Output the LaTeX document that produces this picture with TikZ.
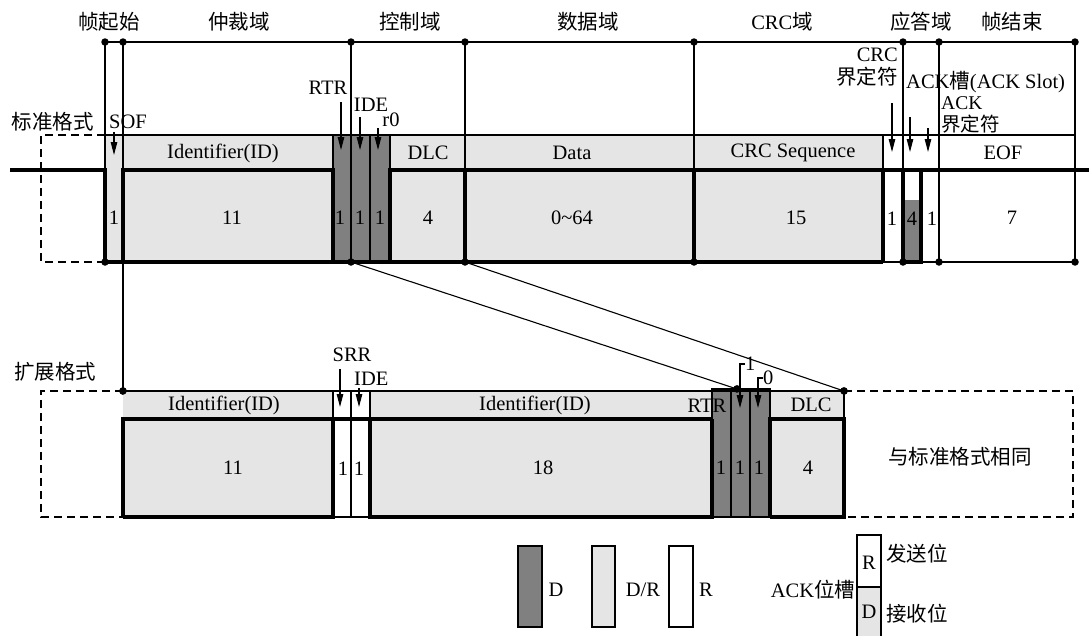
\documentclass[tikz,border=0pt]{standalone}
\usepackage{fontspec}
\setmainfont{Liberation Serif}
\newfontfamily\cjk{Noto Sans CJK SC}
\usetikzlibrary{arrows.meta}
\definecolor{lg}{gray}{0.9}
\definecolor{dg}{gray}{0.5}
\begin{document}
\begin{tikzpicture}[x=1pt,y=-1pt,
  font=\fontsize{20.5}{24}\selectfont,
  every node/.style={inner sep=0pt},
  small/.style={font=\fontsize{19.5}{22}\selectfont},
  ln/.style={line width=1.1pt},
  bus/.style={line width=3.2pt},
  dsh/.style={line width=1.3pt, dash pattern=on 8pt off 5pt},
  arr/.style={line width=1.1pt, -{Triangle[length=13pt,width=6.5pt]}},
  dot/.style={circle, fill=black, minimum size=7.5pt, inner sep=0pt}]
\useasboundingbox (0,0) rectangle (1089,635);

% ---------------- standard frame fills
\fill[lg] (105,135) rectangle (333,262);
\fill[dg] (333,135) rectangle (390,262);
\fill[lg] (390,135) rectangle (883,262);
\fill[dg] (903,200) rectangle (921,262);

% thin lines
\draw[dsh] (105,135) -- (41,135) -- (41,262) -- (105,262);
\draw[ln] (105,135) -- (1075,135);
\draw[ln] (105,42) -- (1075,42);
\foreach \x in {333,390,883} \draw[ln] (\x,135) -- (\x,170);
\draw[ln] (370,135) -- (370,262);
\draw[ln] (883,262) -- (1075,262);

% connector coordinates
\coordinate (t105) at (105,42);  \coordinate (m105) at (105,170);
\coordinate (t123) at (123,42);
\coordinate (t351) at (351,42);  \coordinate (b351) at (351,262);
\coordinate (t465) at (465,42);  \coordinate (b465) at (465,262);
\coordinate (t694) at (694,42);  \coordinate (b694) at (694,262);
\coordinate (t903) at (903,42);  \coordinate (b903) at (903,262);
\coordinate (t939) at (939,42);  \coordinate (b939) at (939,262);
\coordinate (t1075) at (1075,42); \coordinate (b1075) at (1075,262);
\coordinate (b105) at (105,262);
\coordinate (e123) at (123,391);
\coordinate (e737) at (737,389);
\coordinate (e844) at (844,391);

\draw[ln] (t105) -- (m105);
\draw[ln] (t123) -- (e123);
\draw[ln] (t351) -- (b351);
\draw[ln] (t465) -- (465,170);
\draw[ln] (t694) -- (694,170);
\draw[ln] (t903) -- (903,170);
\draw[ln] (t939) -- (b939);
\draw[ln] (t1075) -- (b1075);
\draw[ln] (b351) -- (e737);
\draw[ln] (b465) -- (e844);

% thick bus lines
\draw[bus] (10,170) -- (105,170) -- (105,262) -- (883,262);
\draw[bus] (123,262) -- (123,170) -- (333,170) -- (333,262);
\draw[bus] (390,262) -- (390,170) -- (1089,170);
\foreach \x in {465,694,883} \draw[bus] (\x,170) -- (\x,262);
\draw[bus] (903,170) -- (903,262) -- (921,262) -- (921,170);

% dots
\foreach \p in {t105,t123,t351,t465,t694,t903,t939,t1075,b105,b351,b465,b694,b903,b939,b1075,e123,e737,e844}
  \node[dot] at (\p) {};

% header labels
\node (h1) at (109,22) {\cjk 帧起始};
\node (h2) at (239,22) {\cjk 仲裁域};
\node (h3) at (410,22) {\cjk 控制域};
\node (h4) at (588,22) {\cjk 数据域};
\node (h5) at (782,22) {CRC{\cjk 域}};
\node (h6) at (921,22) {\cjk 应答域};
\node (h7) at (1012,22) {\cjk 帧结束};

\node (std) at (53,122) {\cjk 标准格式};
\node[anchor=west] (sof) at (109,122) {SOF};
\node (rtr) at (328,88) {RTR};
\node (ide) at (371,105) {IDE};
\node (rz) at (391,120) {r0};
\node[anchor=east] (crc1) at (898,55) {CRC};
\node[anchor=east] (crc2) at (898,77) {\cjk 界定符};
\node[anchor=west] (acks) at (906,82) {ACK{\cjk 槽}(ACK Slot)};
\node[anchor=west,small] (ackd1) at (941,103) {ACK};
\node[anchor=west,small] (ackd2) at (941,124) {\cjk 界定符};

% arrows (standard)
\coordinate (a1s) at (114,132); \coordinate (a1e) at (114,155);
\coordinate (a2s) at (341,102); \coordinate (a2e) at (341,150);
\coordinate (a3s) at (360,117); \coordinate (a3e) at (360,150);
\coordinate (a4s) at (378,128); \coordinate (a4e) at (378,150);
\coordinate (a5s) at (892,103); \coordinate (a5e) at (892,152);
\coordinate (a6s) at (910,117); \coordinate (a6e) at (910,152);
\coordinate (a7s) at (928,128); \coordinate (a7e) at (928,152);
\foreach \i in {1,...,7} \draw[arr] (a\i s) -- (a\i e);

% field texts
\node (f1) at (223,153) {Identifier(ID)};
\node (f2) at (428,153) {DLC};
\node (f3) at (572,153) {Data};
\node (f4) at (793,153) {CRC Sequence};
\node (f5) at (1003,153) {EOF};
\node (n1) at (114,218) {1};
\node (n2) at (232,218) {11};
\node (n3) at (340,218) {1};
\node (n4) at (360,218) {1};
\node (n5) at (380,218) {1};
\node (n6) at (428,218) {4};
\node (n7) at (572,218) {0\textasciitilde64};
\node (n8) at (796,218) {15};
\node (n9) at (892,219) {1};
\node (n10) at (912,219) {4};
\node (n11) at (932,219) {1};
\node (n12) at (1012,218) {7};

% ---------------- extended frame
\fill[lg] (123,391) rectangle (333,517);
\fill[lg] (370,391) rectangle (712,517);
\fill[dg] (712,389) rectangle (770,517);
\fill[lg] (770,391) rectangle (844,517);

\draw[dsh] (123,391) -- (41,391) -- (41,517) -- (123,517);
\draw[dsh] (844,391) -- (1073,391) -- (1073,517) -- (844,517);
\draw[ln] (123,391) -- (844,391);
\foreach \x in {333,370,770,844} \draw[ln] (\x,391) -- (\x,419);
\draw[ln] (351,391) -- (351,517);
\draw[ln] (333,517) -- (370,517);
\draw[ln] (712,389) rectangle (770,517);
\draw[ln] (731,389) -- (731,517);
\draw[ln] (750,389) -- (750,517);

\draw[bus] (123,517) -- (123,419) -- (712,419);
\draw[bus] (123,517) -- (333,517) -- (333,419);
\draw[bus] (370,419) -- (370,517) -- (712,517) -- (712,419);
\draw[bus] (770,517) -- (770,419) -- (844,419) -- (844,517) -- (770,517);
\node[dot] at (e123) {};
\node[dot] at (e737) {};
\node[dot] at (e844) {};

\node (ext) at (55,372) {\cjk 扩展格式};
\node (srr) at (352,355) {SRR};
\node[anchor=west] (ide2) at (354,379) {IDE};
\node[anchor=west] (r1l) at (745,364) {1};
\node[anchor=west] (r0l) at (763,378) {0};

\coordinate (b1s) at (340,369); \coordinate (b1e) at (340,407);
\coordinate (b2s) at (359,388); \coordinate (b2e) at (359,407);
\draw[arr] (b1s) -- (b1e);
\draw[arr] (b2s) -- (b2e);
\draw[arr] (r1l.west) -- (740,364) -- (740,408);
\draw[arr] (r0l.west) -- (758,378) -- (758,408);

\node (g1) at (224,405) {Identifier(ID)};
\node (g2) at (535,405) {Identifier(ID)};
\node (g3) at (707,406) {RTR};
\node (g4) at (811,405) {DLC};
\node (m1) at (233,468) {11};
\node (m2) at (343,469) {1};
\node (m3) at (359,469) {1};
\node (m4) at (543,468) {18};
\node (m5) at (721,468) {1};
\node (m6) at (740,468) {1};
\node (m7) at (759,468) {1};
\node (m8) at (808,468) {4};
\node (same) at (960,457) {\cjk 与标准格式相同};

% ---------------- legend
\draw[ln, fill=dg] (518,546) rectangle (542,627);
\node (ld) at (556,590) {D};
\draw[ln, fill=lg] (592,546) rectangle (615,627);
\node (ldr) at (643,590) {D/R};
\draw[ln, fill=white] (669,546) rectangle (693,627);
\node (lr) at (706,590) {R};
\node (lack) at (813,590) {ACK{\cjk 位槽}};
\draw[ln, fill=white] (857,535) rectangle (881,587);
\draw[ln, fill=lg] (857,587) rectangle (881,645);
\node (lar) at (869,563) {R};
\node (lad) at (869,612) {D};
\node (lsend) at (917,554) {\cjk 发送位};
\node (lrecv) at (917,614) {\cjk 接收位};
\end{tikzpicture}
\end{document}
